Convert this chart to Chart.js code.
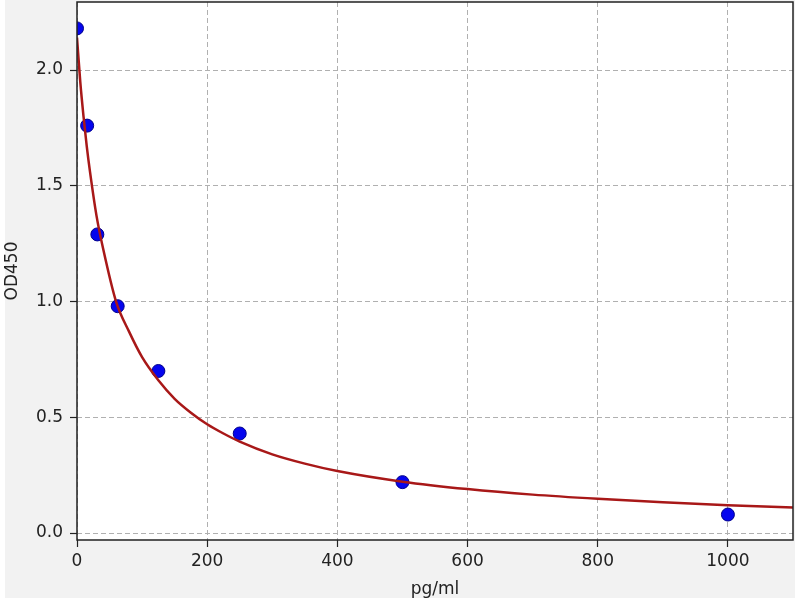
<!DOCTYPE html>
<html>
<head>
<meta charset="utf-8">
<script src="https://cdn.jsdelivr.net/npm/chart.js@4"></script>
<style>
  body { margin: 0; background: #ffffff; }
  #wrap { width: 800px; height: 600px; }
</style>
</head>
<body>
<div id="wrap"><canvas id="chart" width="800" height="600"></canvas></div>
<script>
// standard points (pg/ml vs OD450)
const stdConc = [0, 15.6, 31.25, 62.5, 125, 250, 500, 1000];
const stdOD = [2.18, 1.76, 1.29, 0.98, 0.70, 0.43, 0.22, 0.08];

// fitted curve
const fitConc = [0, 5, 10, 15, 20, 30, 40, 60, 80, 100, 125, 150, 175, 200, 225, 250, 300, 350, 400, 500, 600, 700, 800, 900, 1000, 1100];
const fitOD = [2.14, 1.95, 1.80, 1.67, 1.56, 1.37, 1.23, 1.00, 0.87, 0.76, 0.66, 0.58, 0.52, 0.47, 0.43, 0.395, 0.34, 0.30, 0.268, 0.222, 0.19, 0.166, 0.148, 0.133, 0.12, 0.11];

const xTicks = [0, 200, 400, 600, 800, 1000];
const yTicks = [0.0, 0.5, 1.0, 1.5, 2.0];

const fontFamily = '"DejaVu Sans", sans-serif';

const figureBackground = {
    id: 'figureBackground',
    beforeDraw(chart) {
        const ctx = chart.ctx;
        const a = chart.chartArea;
        ctx.save();
        ctx.fillStyle = '#ffffff';
        ctx.fillRect(0, 0, chart.width, chart.height);
        ctx.fillStyle = '#f2f2f2';
        ctx.fillRect(5, 0, 790, 598);
        ctx.fillStyle = '#ffffff';
        ctx.fillRect(a.left, a.top, a.right - a.left, a.bottom - a.top);
        ctx.restore();
    },
    afterDraw(chart) {
        const ctx = chart.ctx;
        const a = chart.chartArea;
        ctx.save();
        ctx.strokeStyle = '#222222';
        ctx.lineWidth = 1.5;
        ctx.strokeRect(a.left, a.top, a.right - a.left, a.bottom - a.top);
        ctx.restore();
    }
};

const gridStyle = {
    color: '#b0b0b0',
    lineWidth: 1,
    tickColor: '#222222',
    tickWidth: 1.2,
    tickLength: 7,
    tickBorderDash: []
};

new Chart(document.getElementById('chart'), {
    type: 'scatter',
    data: {
        datasets: [
            {
                type: 'line',
                label: 'fit',
                data: fitConc.map((x, i) => ({ x: x, y: fitOD[i] })),
                borderColor: '#a81818',
                borderWidth: 2.5,
                pointRadius: 0,
                fill: false,
                cubicInterpolationMode: 'monotone',
                clip: 0,
                order: 0
            },
            {
                label: 'standards',
                data: stdConc.map((x, i) => ({ x: x, y: stdOD[i] })),
                backgroundColor: '#0505ee',
                borderColor: '#00008b',
                borderWidth: 1,
                pointRadius: 6.5,
                clip: 0,
                order: 1
            }
        ]
    },
    options: {
        responsive: false,
        animation: false,
        layout: { autoPadding: false, padding: { top: 2, right: 7, left: 0, bottom: 0 } },
        plugins: {
            legend: { display: false },
            tooltip: { enabled: false }
        },
        scales: {
            x: {
                type: 'linear',
                min: 0,
                max: 1100,
                afterBuildTicks: s => { s.ticks = xTicks.map(v => ({ value: v })); },
                afterFit: s => { s.height = 60; s.paddingLeft = 0; s.paddingRight = 0; },
                ticks: {
                    color: '#222222',
                    font: { family: fontFamily, size: 17 },
                    padding: 4,
                    maxRotation: 0,
                    callback: v => String(v)
                },
                grid: gridStyle,
                border: { display: false, dash: [5, 3] },
                title: {
                    display: true,
                    text: 'pg/ml',
                    color: '#222222',
                    font: { family: fontFamily, size: 17 },
                    padding: { top: 0, bottom: 0 }
                }
            },
            y: {
                type: 'linear',
                min: -0.03,
                max: 2.294,
                afterBuildTicks: s => { s.ticks = yTicks.map(v => ({ value: v })); },
                afterFit: s => { s.width = 77; s.paddingTop = 0; s.paddingBottom = 0; },
                ticks: {
                    color: '#222222',
                    font: { family: fontFamily, size: 17 },
                    padding: 7,
                    callback: v => Number(v).toFixed(1)
                },
                grid: gridStyle,
                border: { display: false, dash: [5, 3] },
                title: {
                    display: true,
                    text: 'OD450',
                    color: '#222222',
                    font: { family: fontFamily, size: 17 },
                    padding: { top: 2, bottom: 0 }
                }
            }
        }
    },
    plugins: [figureBackground]
});
</script>
</body>
</html>
